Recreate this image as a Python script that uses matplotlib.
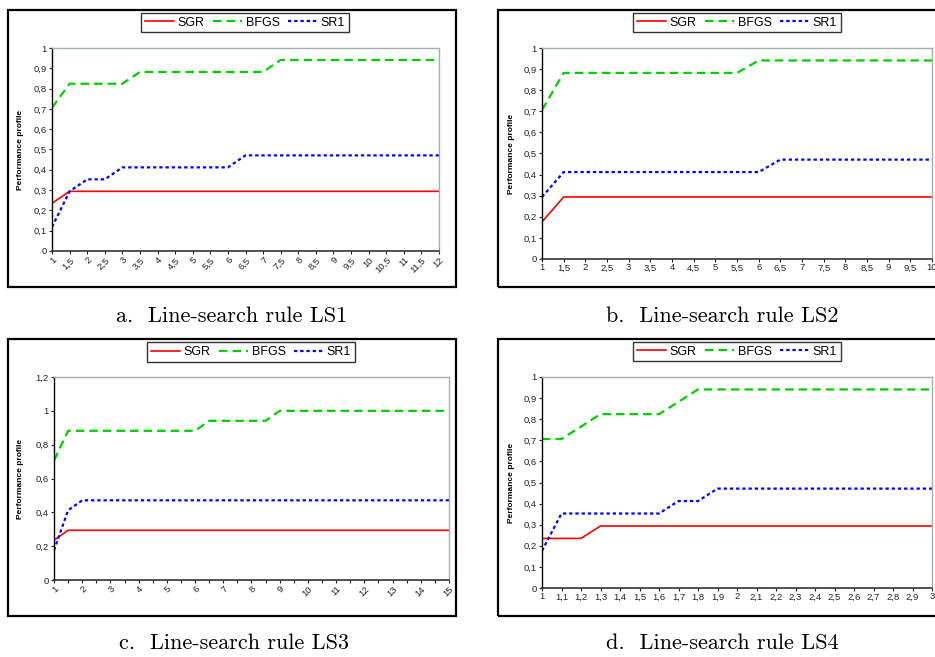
import numpy as np
import matplotlib
matplotlib.use("Agg")
import matplotlib.pyplot as plt
from matplotlib.patches import Rectangle

# ---- data (performance profiles) ----
x_a = [1, 1.5, 2, 2.5, 3, 3.5, 4, 4.5, 5, 5.5, 6, 6.5, 7, 7.5, 8, 8.5, 9, 9.5, 10, 10.5, 11, 11.5, 12]
sgr_a = [0.235, 0.294, 0.294, 0.294, 0.294, 0.294, 0.294, 0.294, 0.294, 0.294, 0.294, 0.294,
         0.294, 0.294, 0.294, 0.294, 0.294, 0.294, 0.294, 0.294, 0.294, 0.294, 0.294]
bfgs_a = [0.706, 0.824, 0.824, 0.824, 0.824, 0.882, 0.882, 0.882, 0.882, 0.882, 0.882, 0.882,
          0.882, 0.941, 0.941, 0.941, 0.941, 0.941, 0.941, 0.941, 0.941, 0.941, 0.941]
sr1_a = [0.118, 0.294, 0.353, 0.353, 0.412, 0.412, 0.412, 0.412, 0.412, 0.412, 0.412, 0.471,
         0.471, 0.471, 0.471, 0.471, 0.471, 0.471, 0.471, 0.471, 0.471, 0.471, 0.471]

x_b = [1, 1.5, 2, 2.5, 3, 3.5, 4, 4.5, 5, 5.5, 6, 6.5, 7, 7.5, 8, 8.5, 9, 9.5, 10]
sgr_b = [0.176, 0.294, 0.294, 0.294, 0.294, 0.294, 0.294, 0.294, 0.294, 0.294,
         0.294, 0.294, 0.294, 0.294, 0.294, 0.294, 0.294, 0.294, 0.294]
bfgs_b = [0.706, 0.882, 0.882, 0.882, 0.882, 0.882, 0.882, 0.882, 0.882, 0.882,
          0.941, 0.941, 0.941, 0.941, 0.941, 0.941, 0.941, 0.941, 0.941]
sr1_b = [0.294, 0.412, 0.412, 0.412, 0.412, 0.412, 0.412, 0.412, 0.412, 0.412,
         0.412, 0.471, 0.471, 0.471, 0.471, 0.471, 0.471, 0.471, 0.471]

x_c = [1, 1.5, 2, 2.5, 3, 3.5, 4, 4.5, 5, 5.5, 6, 6.5, 7, 7.5, 8, 8.5, 9, 9.5, 10,
       10.5, 11, 11.5, 12, 12.5, 13, 13.5, 14, 14.5, 15]
sgr_c = [0.235, 0.294, 0.294, 0.294, 0.294, 0.294, 0.294, 0.294, 0.294, 0.294, 0.294, 0.294,
         0.294, 0.294, 0.294, 0.294, 0.294, 0.294, 0.294, 0.294, 0.294, 0.294, 0.294, 0.294,
         0.294, 0.294, 0.294, 0.294, 0.294]
bfgs_c = [0.706, 0.882, 0.882, 0.882, 0.882, 0.882, 0.882, 0.882, 0.882, 0.882, 0.882, 0.941,
          0.941, 0.941, 0.941, 0.941, 1.0, 1.0, 1.0, 1.0, 1.0, 1.0, 1.0, 1.0,
          1.0, 1.0, 1.0, 1.0, 1.0]
sr1_c = [0.176, 0.412, 0.471, 0.471, 0.471, 0.471, 0.471, 0.471, 0.471, 0.471, 0.471, 0.471,
         0.471, 0.471, 0.471, 0.471, 0.471, 0.471, 0.471, 0.471, 0.471, 0.471, 0.471, 0.471,
         0.471, 0.471, 0.471, 0.471, 0.471]

x_d = [1, 1.1, 1.2, 1.3, 1.4, 1.5, 1.6, 1.7, 1.8, 1.9, 2, 2.1, 2.2, 2.3, 2.4, 2.5, 2.6, 2.7, 2.8, 2.9, 3]
sgr_d = [0.235, 0.235, 0.235, 0.294, 0.294, 0.294, 0.294, 0.294, 0.294, 0.294, 0.294,
         0.294, 0.294, 0.294, 0.294, 0.294, 0.294, 0.294, 0.294, 0.294, 0.294]
bfgs_d = [0.706, 0.706, 0.765, 0.824, 0.824, 0.824, 0.824, 0.882, 0.941, 0.941, 0.941,
          0.941, 0.941, 0.941, 0.941, 0.941, 0.941, 0.941, 0.941, 0.941, 0.941]
sr1_d = [0.176, 0.353, 0.353, 0.353, 0.353, 0.353, 0.353, 0.412, 0.412, 0.471, 0.471,
         0.471, 0.471, 0.471, 0.471, 0.471, 0.471, 0.471, 0.471, 0.471, 0.471]

captions = ["a.  Line-search rule LS1", "b.  Line-search rule LS2",
            "c.  Line-search rule LS3", "d.  Line-search rule LS4"]

W, H = 935, 657
fig = plt.figure(figsize=(W / 100, H / 100), dpi=100)
plt.rcParams['font.family'] = ['Liberation Sans', 'DejaVu Sans']


def frac(x0, y0, x1, y1):
    return [x0 / W, 1 - y1 / H, (x1 - x0) / W, (y1 - y0) / H]


def lab(v):
    # decimal comma, as in the original
    return ('%g' % v).replace('.', ',')


panels = [
    # x, sgr, bfgs, sr1, axes box, panel box, legend center, caption pos, ymax, ystep, rot, label step, ylabel x
    (x_a, sgr_a, bfgs_a, sr1_a, (52, 48, 439, 251), (8, 10, 456, 287), (245, 22.5), (232, 316), 1.0, 0.1, 45, 1, -0.072),
    (x_b, sgr_b, bfgs_b, sr1_b, (542, 48, 932, 259), (498, 10, 946, 287), (737, 22.5), (722, 316), 1.0, 0.1, 0, 1, -0.069),
    (x_c, sgr_c, bfgs_c, sr1_c, (54, 377, 449, 580), (8, 339, 456, 616), (251, 352), (234, 643), 1.2, 0.2, 45, 2, -0.076),
    (x_d, sgr_d, bfgs_d, sr1_d, (542, 377, 932, 588), (498, 339, 946, 616), (737, 351.5), (722, 643), 1.0, 0.1, 0, 1, -0.069),
]

for i, (xs, sgr, bfgs, sr1, abox, pbox, lc, cp, ymax, ystep, rot, step, ylx) in enumerate(panels):
    # outer chart frame
    fig.patches.append(Rectangle((pbox[0] / W, 1 - pbox[3] / H), (pbox[2] - pbox[0]) / W,
                                 (pbox[3] - pbox[1]) / H, transform=fig.transFigure,
                                 fill=False, edgecolor='black', linewidth=1.6))
    ax = fig.add_axes(frac(*abox))
    pos = np.arange(len(xs))
    l1, = ax.plot(pos, sgr, color='#ff0000', lw=1.2, label='SGR')
    l2, = ax.plot(pos, bfgs, color='#00cc00', lw=1.6, linestyle=(0, (3.8, 2.3)), label='BFGS')
    l3, = ax.plot(pos, sr1, color='#0000ff', lw=1.6, linestyle=(0, (1.5, 1.3)), label='SR1')
    ax.set_xlim(0, len(xs) - 1)
    ax.set_ylim(0, ymax)
    yt = np.round(np.arange(0, ymax + 1e-9, ystep), 1)
    ax.set_yticks(yt)
    ax.set_yticklabels([lab(v) for v in yt], fontsize=6.8)
    ax.set_xticks(pos)
    xl = [lab(v) if k % step == 0 else '' for k, v in enumerate(xs)]
    if rot:
        ax.set_xticklabels(xl, fontsize=6.8, rotation=rot, ha='right', rotation_mode='anchor')
    else:
        ax.set_xticklabels(xl, fontsize=6.8)
    ax.tick_params(direction='out', length=2.2, width=0.8, colors='#222222')
    ax.tick_params(axis='x', pad=1.0)
    ax.tick_params(axis='y', pad=1.5)
    for s in ['top', 'right']:
        ax.spines[s].set_color('#a3b0b0')
        ax.spines[s].set_linewidth(1.0)
    ax.spines['left'].set_color('black')
    ax.spines['bottom'].set_color('#333333')
    ax.spines['left'].set_linewidth(1.0)
    ax.spines['bottom'].set_linewidth(1.2)
    ax.set_ylabel('Performance profile', fontsize=6, fontweight='bold')
    ax.yaxis.set_label_coords(ylx, 0.5)

    leg = ax.legend(handles=[l1, l2, l3], loc='center', bbox_to_anchor=(lc[0] / W, 1 - lc[1] / H),
                    bbox_transform=fig.transFigure, ncol=3, fontsize=9, frameon=True,
                    fancybox=False, edgecolor='black', handlelength=2.3, columnspacing=0.7,
                    handletextpad=0.3, borderpad=0.3, borderaxespad=0)
    leg.get_frame().set_linewidth(1.0)

    fig.text(cp[0] / W, 1 - cp[1] / H, captions[i], family='cmr10', fontsize=16,
             ha='center', va='center')

fig.savefig('out.png', dpi=100)
